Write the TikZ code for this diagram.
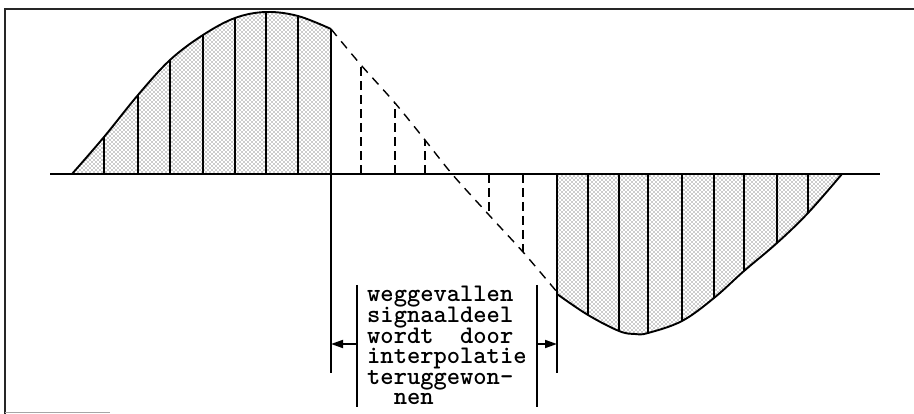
\documentclass[tikz,border=0pt]{standalone}
\usepackage{fontspec}
\usetikzlibrary{patterns,arrows.meta}
\pgfdeclarepatternformonly{stipple}{\pgfqpoint{-1pt}{-1pt}}{\pgfqpoint{5pt}{5pt}}{\pgfqpoint{4pt}{4pt}}{%
  \pgfpathcircle{\pgfqpoint{0pt}{0pt}}{0.65pt}%
  \pgfpathcircle{\pgfqpoint{2pt}{2pt}}{0.65pt}%
  \pgfusepath{fill}}
\tikzset{
  frame/.style={line width=1.8pt, black!85},
  axisline/.style={line width=1.5pt},
  curve/.style={line width=1.9pt},
  sample/.style={line width=1.9pt},
  lostcurve/.style={line width=1.4pt, dash pattern=on 9pt off 7pt},
  lostsample/.style={line width=1.5pt, dash pattern=on 9pt off 5pt},
  lobe/.style={pattern=stipple, pattern color=black!85},
  marker/.style={line width=1.7pt},
  gaparrow/.style={line width=1.7pt, -{Triangle[length=12pt,width=8pt]}},
  lbl/.style={anchor=base west, inner sep=0pt, text height=13pt, text depth=4pt,
    font=\ttfamily\bfseries\fontsize{25.3}{20.6}\selectfont}
}
\begin{document}
\begin{tikzpicture}[x=1pt,y=-1pt]
\useasboundingbox (0,0) rectangle (914,414);
\fill[white] (0,0) rectangle (914,414);
% frame
\draw[frame] (5,414) -- (5,9) -- (914,9);
\draw[line width=1pt, black!35] (5,412) -- (110,412);
% fills
\fill[lobe] plot[smooth,tension=0.6] coordinates {(72,174) (104,137) (138,95) (170,60) (203,35) (235,18) (266,12) (298,16) (331,29)} -- (331,174) -- cycle;
\fill[lobe] (557,174) -- plot[smooth,tension=0.6] coordinates {(557,294) (588,315) (619,331) (635,334) (648,333) (682,321) (714,298) (744,271) (777,243) (808,213) (842,174)} -- cycle;
% axis
\draw[axisline] (50,174) -- (880,174);
% curves
\draw[curve] plot[smooth,tension=0.6] coordinates {(72,174) (104,137) (138,95) (170,60) (203,35) (235,18) (266,12) (298,16) (331,29)};
\draw[curve] plot[smooth,tension=0.6] coordinates {(557,294) (588,315) (619,331) (635,334) (648,333) (682,321) (714,298) (744,271) (777,243) (808,213) (842,174)};
\draw[lostcurve] plot[smooth,tension=0.5] coordinates {(331,29) (361,65) (395,103) (425,140) (452,174) (489,215) (523,252) (557,292)};
% samples
\foreach \x/\y in {104/137,138/95,170/60,203/35,235/18,266/12,298/16}
  \draw[sample] (\x,174) -- (\x,\y);
\foreach \x/\y in {588/315,619/331,648/333,682/321,714/298,744/271,777/243,808/213}
  \draw[sample] (\x,174) -- (\x,\y);
\foreach \x/\y in {361/65,395/103,425/140,489/215,523/252}
  \draw[lostsample] (\x,174) -- (\x,\y);
% markers
\draw[marker] (331,29) -- (331,373);
\draw[marker] (557,174) -- (557,373);
\draw[marker] (357,285) -- (357,407);
\draw[marker] (537,285) -- (537,407);
\coordinate (lstart) at (357,344);
\coordinate (lend) at (331,344);
\coordinate (rstart) at (537,344);
\coordinate (rend) at (557,344);
\draw[gaparrow] (lstart) -- (lend);
\draw[gaparrow] (rstart) -- (rend);
% label
\node[lbl] (t1) at (367,302) {weggevallen};
\node[lbl] (t2) at (367,322.6) {signaaldeel};
\node[lbl] (t3) at (367,343.2) {wordt\ \ door};
\node[lbl] (t4) at (367,363.8) {interpolatie};
\node[lbl] (t5) at (367,384.4) {teruggewon-};
\node[lbl] (t6) at (367,405) {\ \ nen};
\end{tikzpicture}
\end{document}
